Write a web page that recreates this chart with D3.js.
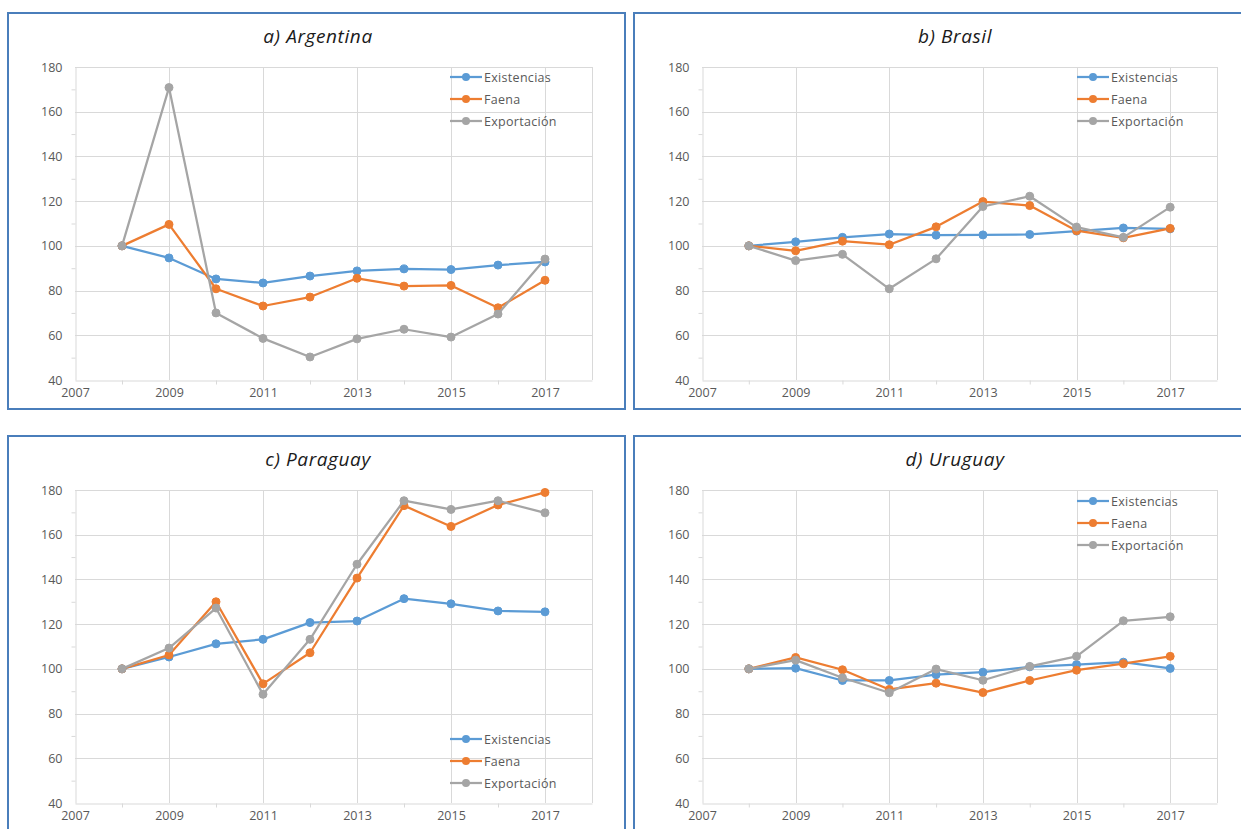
<!DOCTYPE html>
<html><head><meta charset="utf-8">
<script src="https://cdn.jsdelivr.net/npm/d3@7"></script>
<style>
html,body{margin:0;padding:0;background:#fff;overflow:hidden}
svg{display:block;font-family:"Open Sans",Lato,sans-serif}
</style></head><body>
<svg id="c" width="1241" height="829"></svg>
<script>
const years = [2008,2009,2010,2011,2012,2013,2014,2015,2016,2017];
const seriesNames = ["Existencias","Faena","Exportación"];
const xTicks = [2007,2009,2011,2013,2015,2017];
const yTicks = [40,60,80,100,120,140,160,180];
const titles = ["a) Argentina","b) Brasil","c) Paraguay","d) Uruguay"];

const argExistencias = [100,94.6,85.2,83.4,86.5,88.8,89.7,89.4,91.4,92.8];
const argFaena       = [100,109.6,80.8,73.1,77.1,85.5,82.0,82.3,72.3,84.6];
const argExportacion = [100,170.8,70.0,58.6,50.3,58.4,62.7,59.2,69.5,94.1];

const braExistencias = [100,101.8,103.8,105.3,104.8,104.9,105.1,106.6,108.0,107.6];
const braFaena       = [100,97.8,102.1,100.5,108.5,119.8,118.0,106.8,103.6,107.8];
const braExportacion = [100,93.4,96.2,80.8,94.2,117.6,122.2,108.4,103.8,117.3];

const parExistencias = [100,105.3,111.2,113.2,120.7,121.4,131.4,129.1,125.9,125.5];
const parFaena       = [100,106.2,130.0,93.3,107.2,140.6,173.0,163.7,173.3,178.9];
const parExportacion = [100,109.3,127.2,88.6,113.2,146.8,175.2,171.3,175.2,169.8];

const uruExistencias = [100,100.3,94.8,94.8,97.4,98.5,100.9,101.9,103.0,100.2];
const uruFaena       = [100,105.1,99.6,90.8,93.6,89.4,94.8,99.4,102.3,105.6];
const uruExportacion = [100,103.9,96.0,89.3,99.9,94.9,101.1,105.6,121.5,123.3];

const countryData = [
  [argExistencias,argFaena,argExportacion],
  [braExistencias,braFaena,braExportacion],
  [parExistencias,parFaena,parExportacion],
  [uruExistencias,uruFaena,uruExportacion]
];

// layout
const colors = ["#5b9bd5","#ed7d31","#a5a5a5"];
const panels = [
  {x:8,y:13,w:617,h:396,plotX:67,plotW:517,titleX:310,legY:64},
  {x:634,y:13,w:620,h:396,plotX:68,plotW:515,titleX:321,legY:64},
  {x:8,y:436,w:617,h:400,plotX:67,plotW:517,titleX:310,legY:303},
  {x:634,y:436,w:620,h:400,plotX:68,plotW:515,titleX:321,legY:65}
];
const plotTop = 54, plotH = 313;
const fontFam = "'Open Sans',Lato,sans-serif";

const svg = d3.select("#c");

panels.forEach((p,i)=>{
  const g = svg.append("g").attr("transform",`translate(${p.x},${p.y})`);
  g.append("rect").attr("x",0).attr("y",0).attr("width",p.w).attr("height",p.h)
    .attr("fill","#fff").attr("stroke","#4a7ebb").attr("stroke-width",2);

  g.append("text").attr("x",p.titleX).attr("y",30).attr("text-anchor","middle")
    .attr("font-style","italic").attr("font-size",19).attr("letter-spacing",0.6).attr("fill","#1a1a1a")
    .text(titles[i]);

  const x = d3.scaleLinear().domain([2007,2018]).range([p.plotX,p.plotX+p.plotW]);
  const y = d3.scaleLinear().domain([40,180]).range([plotTop+plotH,plotTop]);

  // gridlines
  const grid = g.append("g").attr("stroke","#d9d9d9").attr("stroke-width",1);
  yTicks.filter(v=>v>40).forEach(v=>{
    grid.append("line").attr("x1",x(2007)).attr("x2",x(2018))
      .attr("y1",Math.round(y(v))+0.5).attr("y2",Math.round(y(v))+0.5);
  });
  xTicks.filter(v=>v>2007).concat([2018]).forEach(v=>{
    grid.append("line").attr("y1",y(40)).attr("y2",y(180))
      .attr("x1",Math.round(x(v))+0.5).attr("x2",Math.round(x(v))+0.5);
  });

  // axes
  const yAxis = d3.axisLeft(y).tickValues(yTicks).tickSize(0).tickPadding(13);
  const ya = g.append("g").attr("transform",`translate(${Math.round(x(2007))+0.5},0)`).call(yAxis);
  ya.select(".domain").attr("stroke","#d9d9d9");
  ya.selectAll("text").attr("fill","#595959").attr("font-size",12.5).attr("font-family",fontFam);
  const yMinor = d3.axisLeft(y).tickValues([50,70,90,110,130,150,170]).tickSize(4).tickFormat("");
  const ym = g.append("g").attr("transform",`translate(${Math.round(x(2007))+0.5},0)`).call(yMinor);
  ym.select(".domain").remove(); ym.selectAll("line").attr("stroke","#d9d9d9");

  const xAxis = d3.axisBottom(x).tickValues(xTicks).tickSize(0).tickPadding(8).tickFormat(d3.format("d"));
  const xa = g.append("g").attr("transform",`translate(0,${Math.round(y(40))+0.5})`).call(xAxis);
  xa.select(".domain").attr("stroke","#d9d9d9");
  xa.selectAll("text").attr("fill","#595959").attr("font-size",12.5).attr("font-family",fontFam);
  const xMinor = d3.axisBottom(x).tickValues([2008,2010,2012,2014,2016]).tickSize(4).tickFormat("");
  const xm = g.append("g").attr("transform",`translate(0,${Math.round(y(40))+0.5})`).call(xMinor);
  xm.select(".domain").remove(); xm.selectAll("line").attr("stroke","#d9d9d9");

  // series
  const line = d3.line().x((d,k)=>x(years[k])).y(d=>y(d));
  countryData[i].forEach((vals,s)=>{
    g.append("path").datum(vals).attr("d",line).attr("fill","none")
      .attr("stroke",colors[s]).attr("stroke-width",2.25).attr("stroke-linejoin","round");
    g.selectAll(null).data(vals).enter().append("circle")
      .attr("cx",(d,k)=>x(years[k])).attr("cy",d=>y(d)).attr("r",4)
      .attr("fill",colors[s]).attr("stroke",colors[s]).attr("stroke-width",1);
  });

  // legend
  const lg = g.append("g").attr("transform",`translate(${p.plotX+375},${p.legY})`);
  seriesNames.forEach((n,s)=>{
    const r = lg.append("g").attr("transform",`translate(0,${s*22})`);
    r.append("line").attr("x1",0).attr("x2",32).attr("y1",0).attr("y2",0)
      .attr("stroke",colors[s]).attr("stroke-width",2.25);
    r.append("circle").attr("cx",16).attr("cy",0).attr("r",4).attr("fill",colors[s]);
    r.append("text").attr("x",34).attr("y",4.5).attr("font-size",12.5).attr("letter-spacing",0.3)
      .attr("fill","#595959").text(n);
  });
});
</script>
</body></html>
